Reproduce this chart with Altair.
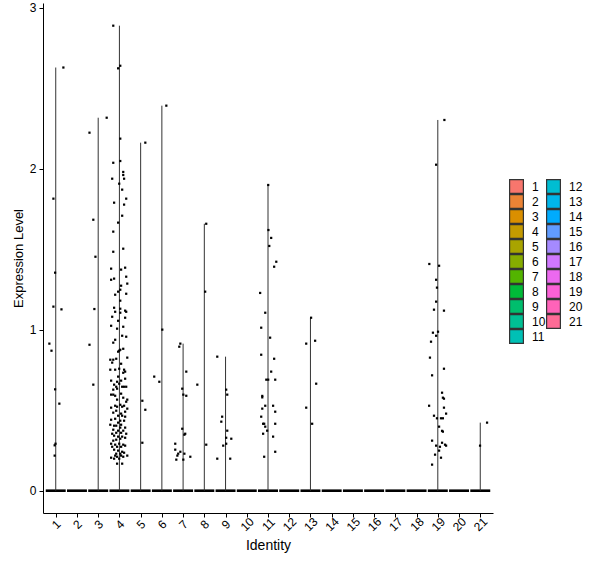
import math
import altair as alt
import pandas as pd

# ---------------- data ----------------
CLUSTERS = list(range(1, 22))

JIT_1 = [0.36, -0.11, -0.03, -0.11, 0.27, -0.30, -0.20, -0.03, 0.17, -0.05, -0.01, -0.05]
VAL_1 = [2.63, 1.815, 1.355, 1.144, 1.127, 0.914, 0.870, 0.630, 0.541, 0.282, 0.292, 0.218]

JIT_3 = [0.40, -0.41, -0.23, -0.13, -0.18, -0.41, -0.23]
VAL_3 = [2.318, 2.225, 1.684, 1.454, 1.129, 0.907, 0.659]

JIT_4 = [-0.29, 0.04, -0.06, 0.04, 0.04, -0.29, 0.18, 0.18, 0.22, -0.34,
         -0.01, 0.13, 0.32, -0.25, 0.22, 0.13, -0.06, -0.29, -0.29, 0.18,
         -0.39, 0.08, 0.27, -0.25, -0.39, 0.32, 0.08, 0.37, -0.20, -0.06,
         0.32, 0.04, 0.04, -0.25, -0.20, 0.04, 0.27, 0.32, 0.04, -0.34,
         0.27, -0.06, 0.18, -0.39, -0.11, 0.13, 0.32, -0.20, -0.29, -0.01,
         0.04, -0.06, 0.18, 0.37, -0.43, -0.29, -0.15, 0.08, -0.34, -0.43,
         -0.20, 0.22, 0.27, 0.18, -0.01, -0.06, 0.27, -0.39, 0.08, -0.11,
         -0.25, -0.15, 0.13, 0.22, 0.32, -0.01, -0.29, -0.11, -0.39, -0.29,
         -0.20, 0.08, -0.11, 0.37, 0.18, 0.32, 0.04, -0.39, -0.20, -0.11,
         0.13, 0.37, 0.22, -0.15, 0.27, -0.29, 0.08, -0.06, 0.13, 0.27,
         -0.20, 0.04, 0.22, -0.39, -0.06, -0.25, -0.43, -0.15, 0.08, 0.27,
         0.04, -0.29, -0.06, 0.18, -0.15, -0.34, 0.08, 0.32, -0.25, -0.06,
         0.13, 0.27, 0.04, -0.15, -0.29, -0.39, -0.20, -0.01, 0.18, 0.27,
         -0.11, 0.08, -0.34, -0.25, -0.06, 0.13, 0.22, -0.15, 0.04, 0.37,
         -0.20, -0.11, 0.08, 0.18, -0.39, -0.25, -0.01, -0.11, 0.13]
VAL_4 = [2.890, 2.641, 2.625, 2.188, 2.049, 2.038, 1.981, 1.962, 1.939, 1.939,
         1.908, 1.871, 1.815, 1.790, 1.778, 1.709, 1.666, 1.610, 1.485, 1.504,
         1.380, 1.374, 1.386, 1.318, 1.311, 1.330, 1.274, 1.287, 1.218, 1.237,
         1.224, 1.249, 1.181, 1.137, 1.112, 1.106, 1.119, 1.112, 1.131, 1.081,
         1.075, 1.056, 1.019, 1.025, 1.007, 0.963, 0.957, 0.938, 0.920, 0.870,
         0.876, 0.864, 0.882, 0.827, 0.814, 0.814, 0.820, 0.789, 0.796, 0.752,
         0.752, 0.752, 0.740, 0.733, 0.758, 0.709, 0.696, 0.684, 0.684, 0.677,
         0.659, 0.646, 0.646, 0.646, 0.646, 0.665, 0.628, 0.634, 0.597, 0.597,
         0.590, 0.603, 0.566, 0.566, 0.578, 0.553, 0.534, 0.516, 0.528, 0.522,
         0.522, 0.510, 0.528, 0.497, 0.491, 0.485, 0.479, 0.466, 0.466, 0.460,
         0.447, 0.435, 0.435, 0.441, 0.423, 0.404, 0.410, 0.404, 0.410, 0.392,
         0.392, 0.379, 0.373, 0.373, 0.360, 0.354, 0.360, 0.354, 0.342, 0.336,
         0.336, 0.329, 0.323, 0.317, 0.311, 0.292, 0.286, 0.292, 0.286, 0.280,
         0.273, 0.273, 0.273, 0.255, 0.249, 0.242, 0.236, 0.230, 0.230, 0.218,
         0.218, 0.211, 0.218, 0.211, 0.205, 0.199, 0.199, 0.168, 0.168]

JIT_5 = [0.22, 0.08, 0.22, 0.08]
VAL_5 = [2.163, 0.559, 0.503, 0.298]

JIT_6 = [0.21, 0.02, -0.36, -0.12]
VAL_6 = [2.393, 1.001, 0.709, 0.677]

JIT_7 = [-0.13, -0.18, 0.15, -0.04, 0.01, 0.15, -0.04, 0.10, 0.06, -0.37,
         -0.37, -0.13, -0.23, -0.27, 0.06, -0.32, 0.01, 0.34]
VAL_7 = [0.914, 0.895, 0.740, 0.634, 0.597, 0.590, 0.385, 0.354, 0.348, 0.292,
         0.255, 0.242, 0.230, 0.218, 0.230, 0.193, 0.193, 0.211]

JIT_8 = [0.09, 0.04, -0.33, 0.09]
VAL_8 = [1.659, 1.237, 0.659, 0.286]

JIT_9 = [-0.39, 0.03, 0.08, -0.16, -0.20, 0.08, 0.03, 0.27, 0.03, -0.11, -0.39, 0.22]
VAL_9 = [0.833, 0.628, 0.597, 0.460, 0.429, 0.373, 0.329, 0.323, 0.292, 0.280, 0.199, 0.199]

JIT_11 = [0.01, 0.02, 0.15, 0.06, 0.39, 0.29, -0.37, -0.13, -0.32, 0.10,
          -0.32, 0.29, 0.15, -0.08, 0.01, 0.34, -0.27, -0.27, -0.13, 0.24,
          -0.27, 0.34, -0.32, -0.23, -0.18, 0.34, -0.13, -0.04, -0.23, 0.24,
          0.34, -0.18]
VAL_11 = [1.900, 1.620, 1.571, 1.521, 1.423, 1.392, 1.229, 1.106, 1.013, 0.951,
          0.845, 0.820, 0.740, 0.690, 0.690, 0.690, 0.589, 0.580, 0.528, 0.528,
          0.510, 0.491, 0.460, 0.416, 0.416, 0.416, 0.398, 0.373, 0.354, 0.336,
          0.242, 0.211]

JIT_13 = [0.03, 0.22, -0.20, 0.27, -0.20, 0.08]
VAL_13 = [1.075, 0.932, 0.914, 0.665, 0.516, 0.416]

JIT_19 = [0.31, -0.08, -0.40, 0.06, -0.08, -0.04, -0.08, -0.18, 0.29, -0.23,
          0.01, -0.08, -0.32, -0.37, 0.29, -0.27, 0.20, 0.24, 0.29, -0.41,
          0.29, 0.39, -0.18, -0.04, 0.15, 0.24, 0.06, 0.24, 0.20, -0.27,
          0.20, 0.34, 0.39, -0.08, 0.10, 0.06, -0.13, 0.15, -0.27]
VAL_19 = [2.304, 2.026, 1.409, 1.398, 1.311, 1.262, 1.175, 1.125, 1.119, 0.982,
          0.988, 0.963, 0.926, 0.827, 0.758, 0.717, 0.609, 0.578, 0.572, 0.528,
          0.516, 0.479, 0.466, 0.450, 0.450, 0.450, 0.398, 0.367, 0.372, 0.311,
          0.298, 0.286, 0.280, 0.280, 0.273, 0.249, 0.224, 0.205, 0.162]

JIT_21 = [0.32, -0.01]
VAL_21 = [0.423, 0.280]

SERIES = {1: (JIT_1, VAL_1), 3: (JIT_3, VAL_3), 4: (JIT_4, VAL_4), 5: (JIT_5, VAL_5),
          6: (JIT_6, VAL_6), 7: (JIT_7, VAL_7), 8: (JIT_8, VAL_8), 9: (JIT_9, VAL_9),
          11: (JIT_11, VAL_11), 13: (JIT_13, VAL_13), 19: (JIT_19, VAL_19),
          21: (JIT_21, VAL_21)}

# ---------------- ggplot2 default hue palette ----------------
def hcl_hex(h, c=100.0, l=65.0):
    hr = math.radians(h)
    u, v = c * math.cos(hr), c * math.sin(hr)
    xn, yn, zn = 95.047, 100.0, 108.883
    y = yn * ((l + 16) / 116) ** 3
    d = xn + 15 * yn + 3 * zn
    un, vn = 4 * xn / d, 9 * yn / d
    up = u / (13 * l) + un
    vp = v / (13 * l) + vn
    x = 9 * y * up / (4 * vp)
    z = y * (12 - 3 * up - 20 * vp) / (4 * vp)
    x, y, z = x / 100, y / 100, z / 100
    r = 3.2404542 * x - 1.5371385 * y - 0.4985314 * z
    g = -0.9692660 * x + 1.8760108 * y + 0.0415560 * z
    b = 0.0556434 * x - 0.2040259 * y + 1.0572252 * z

    def gam(t):
        t = 12.92 * t if t <= 0.0031308 else 1.055 * t ** (1 / 2.4) - 0.055
        return max(0, min(255, round(t * 255)))
    return "#%02X%02X%02X" % (gam(r), gam(g), gam(b))

n = len(CLUSTERS)
COLORS = [hcl_hex(15 + i * 360 / n) for i in range(n)]
dom = [str(c) for c in CLUSTERS]

# ---------------- tables ----------------
rows = []
for c, (jit, val) in SERIES.items():
    for j, v in zip(jit, val):
        rows.append({"cluster": c, "jit": j, "value": v})
pts = pd.DataFrame(rows)
cl = pd.DataFrame({"cluster": CLUSTERS, "label": dom})

FONT = "Liberation Sans"
xscale = alt.Scale(domain=[0.4, 21.6], nice=False, zero=False)
yscale = alt.Scale(domain=[-0.1386, 3.031], nice=False, zero=False)

xaxis = alt.Axis(values=CLUSTERS, format="d", labelAngle=-45, labelAlign="center",
                 labelBaseline="middle", labelOverlap=False, labelFlush=False,
                 labelBound=False, title="Identity", grid=False,
                 labelFontSize=12, titleFontSize=14, labelPadding=7, titlePadding=6)
yaxis = alt.Axis(values=[0, 1, 2, 3], format="d", title="Expression Level", grid=False,
                 labelFontSize=12, titleFontSize=13, labelPadding=3, titlePadding=4)

hlines = alt.Chart(cl).transform_calculate(
    x1="datum.cluster - 0.47", x2="datum.cluster + 0.47", zero="0"
).mark_rule(color="#000000", strokeWidth=2.6, strokeCap="butt").encode(
    x=alt.X("x1:Q", scale=xscale, axis=xaxis),
    x2="x2:Q",
    y=alt.Y("zero:Q", scale=yscale, axis=yaxis),
)

vlines = alt.Chart(pts).transform_aggregate(
    maxv="max(value)", groupby=["cluster"]
).mark_rule(color="#333333", strokeWidth=1).encode(
    x=alt.X("cluster:Q", scale=xscale, axis=xaxis),
    y=alt.Y("maxv:Q", scale=yscale, axis=yaxis),
    y2=alt.datum(0),
)

points = alt.Chart(pts).transform_calculate(
    xpos="datum.cluster + datum.jit"
).mark_square(color="#000000", size=5, opacity=1).encode(
    x=alt.X("xpos:Q", scale=xscale, axis=xaxis),
    y=alt.Y("value:Q", scale=yscale, axis=yaxis),
)

legend_layer = alt.Chart(cl).mark_square(opacity=0, stroke="#333333", strokeWidth=1.2).encode(
    x=alt.X("cluster:Q", scale=xscale, axis=xaxis),
    y=alt.datum(0),
    fill=alt.Fill("label:N", scale=alt.Scale(domain=dom, range=COLORS),
                  legend=alt.Legend(title=None, orient="none", legendX=466, legendY=176,
                                    columns=2, symbolType="square", symbolSize=190,
                                    symbolOpacity=1, symbolStrokeColor="#333333",
                                    symbolStrokeWidth=1.2, labelFontSize=12,
                                    labelFont=FONT, labelColor="#000000",
                                    labelOffset=8, rowPadding=0, columnPadding=0,
                                    clipHeight=15, padding=0)),
)

chart = alt.layer(hlines, vlines, points, legend_layer).properties(
    width=450, height=510,
    autosize=alt.AutoSizeParams(type="none"),
    padding={"left": 43, "top": 3, "right": 107, "bottom": 55},
).configure_view(stroke=None).configure_axis(
    domainColor="#000000", tickColor="#000000", labelColor="#000000",
    titleColor="#000000", labelFont=FONT, titleFont=FONT, tickSize=4,
    titleFontWeight="normal", domainWidth=1, tickWidth=1,
).configure_axisX(labelOverlap=False)

chart.save("out.html", embed_options={"renderer": "svg", "actions": False})
